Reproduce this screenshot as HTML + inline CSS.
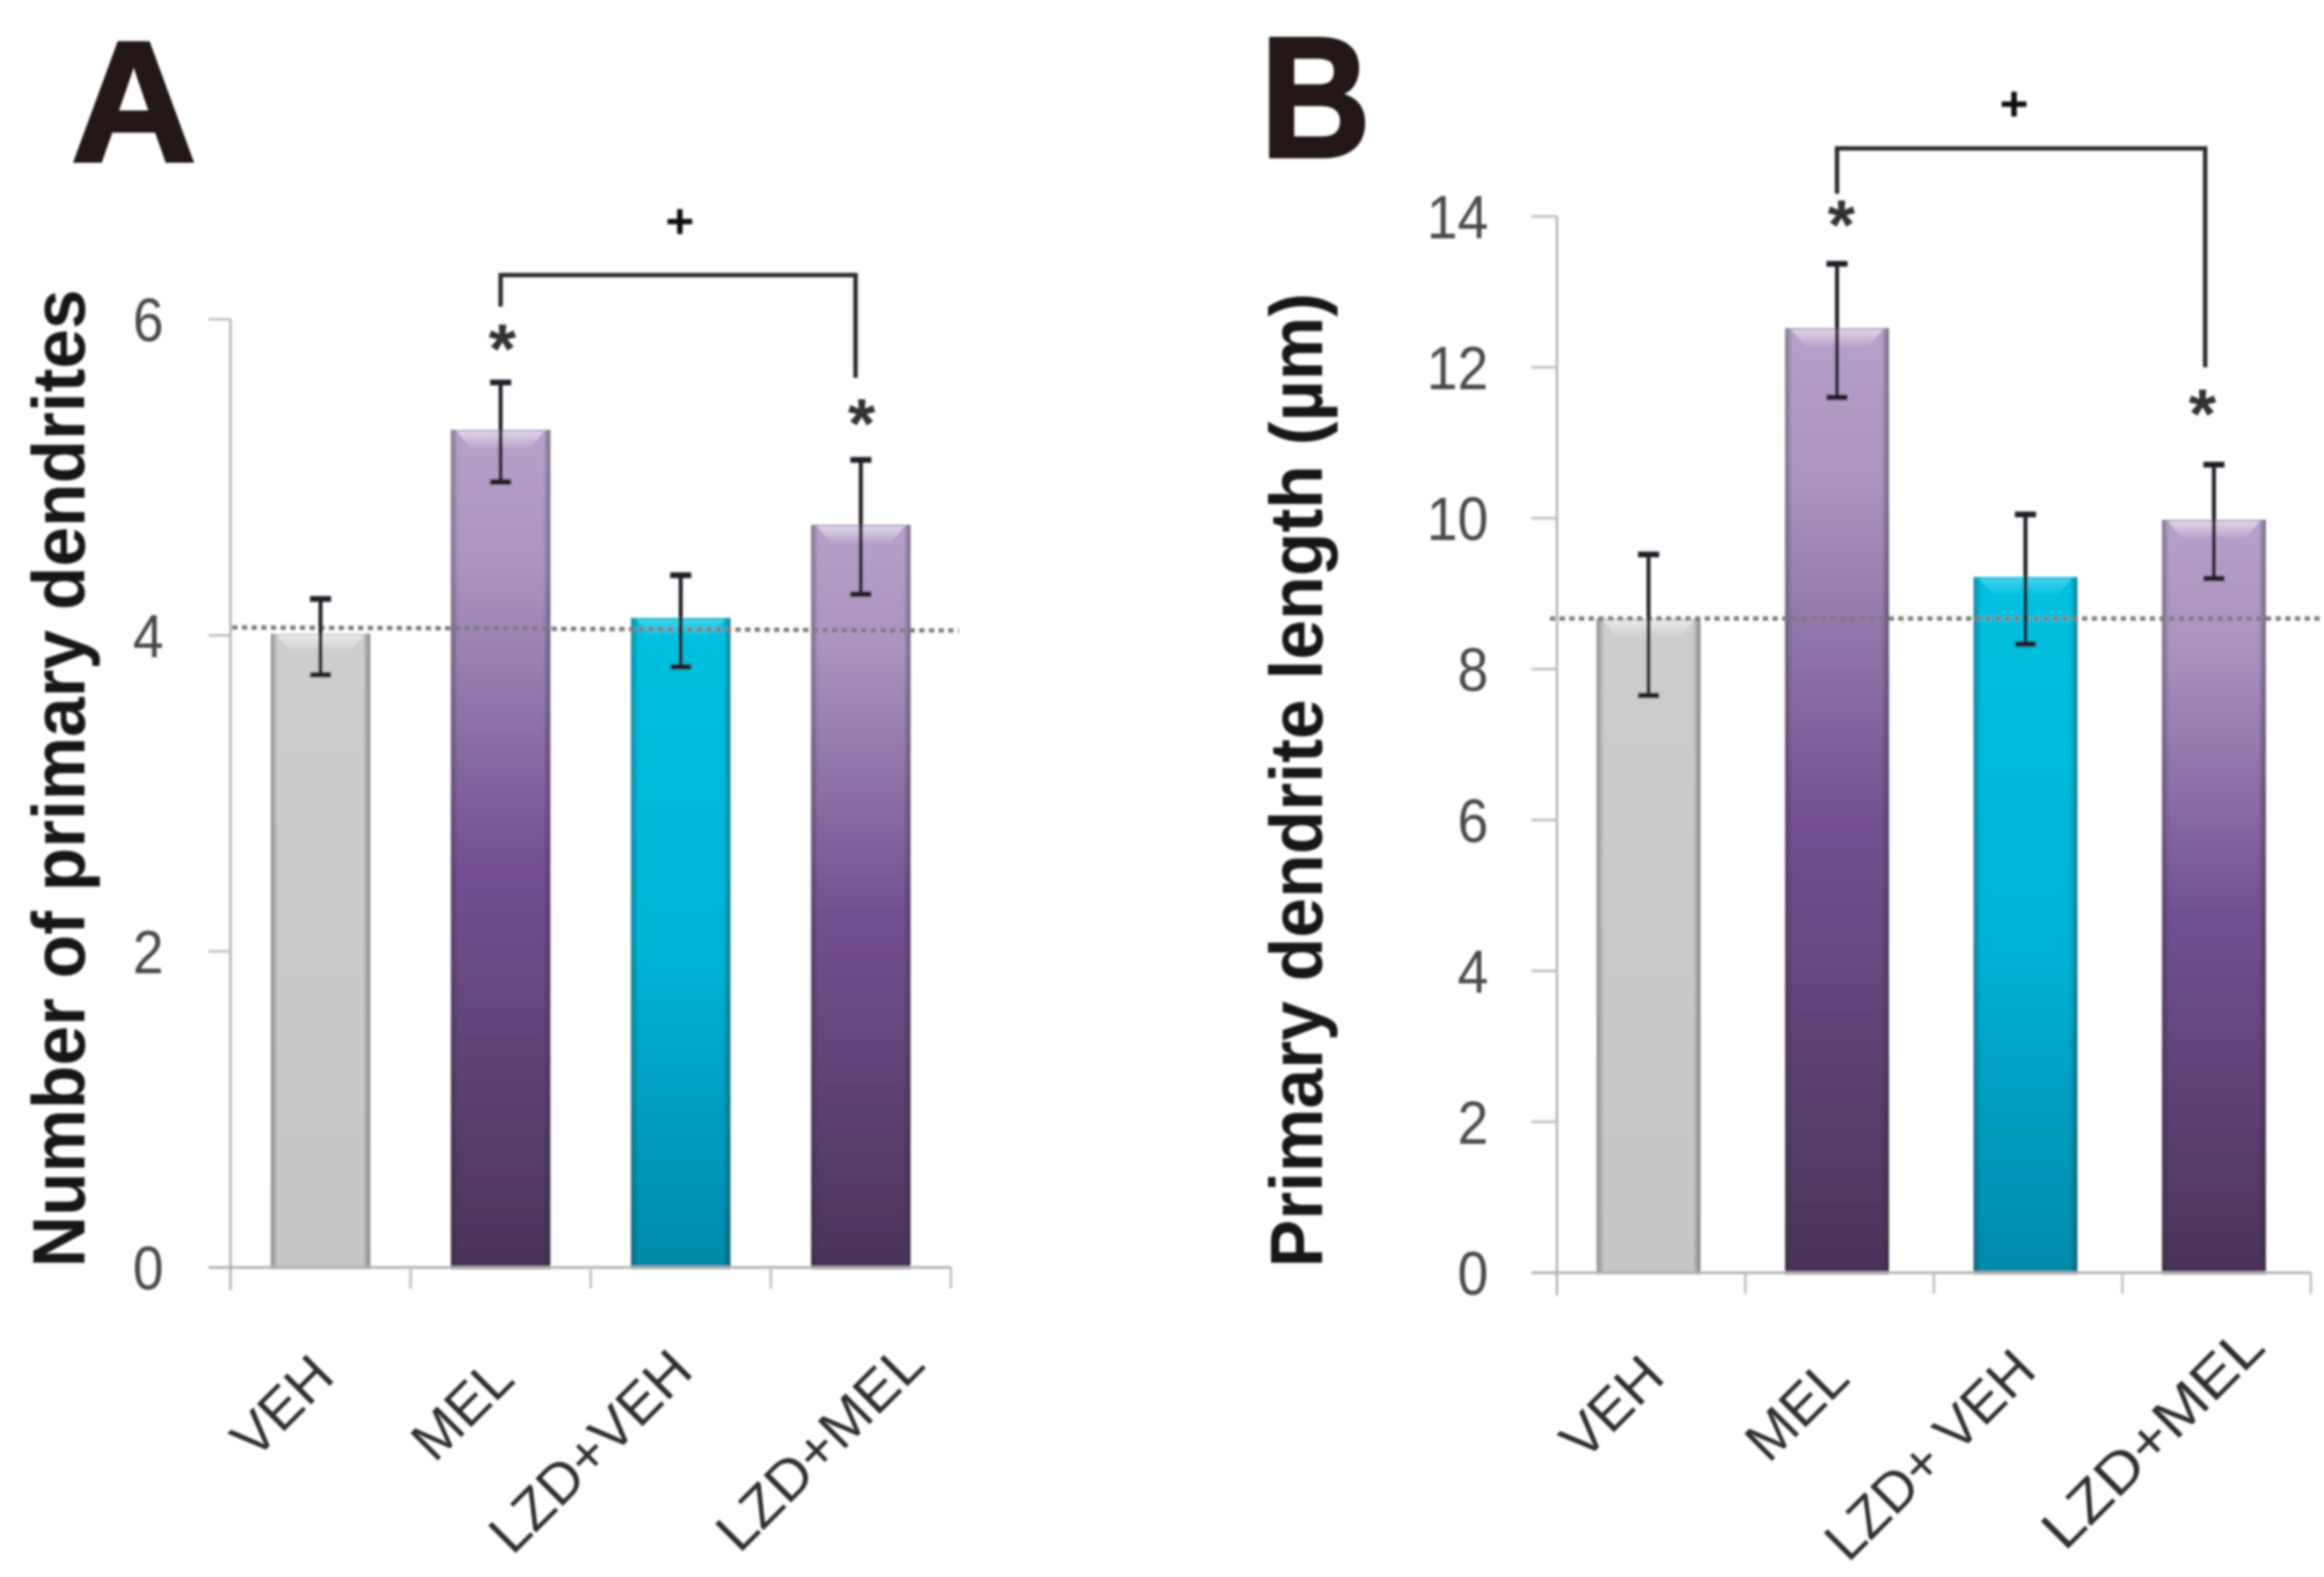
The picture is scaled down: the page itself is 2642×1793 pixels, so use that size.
<!DOCTYPE html>
<html lang="en">
<head>
<meta charset="utf-8">
<title>Primary dendrites charts</title>
<style>
html,body{margin:0;padding:0;background:#fff;}
svg{display:block;}
text{font-family:"Liberation Sans",sans-serif;}
</style>
</head>
<body>
<svg id="figure" xmlns="http://www.w3.org/2000/svg" width="2642" height="1793" viewBox="0 0 2642 1793">
  <defs>
    <filter id="soft" x="-2%" y="-2%" width="104%" height="104%"><feGaussianBlur stdDeviation="1.3"/></filter>
    <linearGradient id="grad-gray" x1="0" y1="0" x2="0" y2="1"><stop offset="0" stop-color="#cdcdcd"/><stop offset="1" stop-color="#c6c6c6"/></linearGradient>
    <linearGradient id="grad-purple" x1="0" y1="0" x2="0" y2="1"><stop offset="0" stop-color="#b6a1c9"/><stop offset="0.16" stop-color="#ab94c0"/><stop offset="0.52" stop-color="#735090"/><stop offset="1" stop-color="#4a3258"/></linearGradient>
    <linearGradient id="grad-teal" x1="0" y1="0" x2="0" y2="1"><stop offset="0" stop-color="#00c0e0"/><stop offset="0.5" stop-color="#00b4d6"/><stop offset="1" stop-color="#0089a9"/></linearGradient>
    <linearGradient id="edge-shade" x1="0" y1="0" x2="1" y2="0"><stop offset="0" stop-color="#222" stop-opacity="0.38"/><stop offset="0.07" stop-color="#222" stop-opacity="0"/><stop offset="0.93" stop-color="#222" stop-opacity="0"/><stop offset="1" stop-color="#222" stop-opacity="0.45"/></linearGradient>
    <linearGradient id="top-glow" x1="0" y1="0" x2="0" y2="1"><stop offset="0" stop-color="#fff" stop-opacity="0.6"/><stop offset="1" stop-color="#fff" stop-opacity="0"/></linearGradient>
  </defs>
  <g id="root" filter="url(#soft)"></g>
</svg>
<script>
/* Panel A data */
const categoriesA = ['VEH', 'MEL', 'LZD+VEH', 'LZD+MEL'];
const valuesA = [4.01, 5.30, 4.11, 4.70];
const errorHighA = [4.23, 5.60, 4.38, 5.11];
const errorLowA = [3.75, 4.97, 3.80, 4.26];
const tickLabelsA = [0, 2, 4, 6];
const referenceA = [4.05, 4.03];
const bracketA = [6.28, 6.08, 5.63];
const starredA = [1, 3];

/* Panel B data */
const categoriesB = ['VEH', 'MEL', 'LZD+ VEH', 'LZD+MEL'];
const valuesB = [8.67, 12.52, 9.22, 9.98];
const errorHighB = [9.52, 13.37, 10.05, 10.71];
const errorLowB = [7.65, 11.60, 8.33, 9.20];
const tickLabelsB = [0, 2, 4, 6, 8, 10, 12, 14];
const referenceB = [8.67, 8.67];
const bracketB = [14.9, 14.3, 12.0];
const starredB = [1, 3];

const barFills = ['url(#grad-gray)', 'url(#grad-purple)', 'url(#grad-teal)', 'url(#grad-purple)'];
const SVGNS = 'http://www.w3.org/2000/svg';
const root = document.getElementById('root');

function mk(tag, attrs, parent, label, interactable) {
  const el = document.createElementNS(SVGNS, tag);
  for (const k in attrs) el.setAttribute(k, attrs[k]);
  
  
  parent.appendChild(el);
  return el;
}

function drawPanel(p) {
  const g = mk('g', {}, root, 'panel-' + p.id, false);
  const n = p.categories.length;
  const band = (p.xRight - p.xLeft) / n;
  const maxTick = p.ticks[p.ticks.length - 1];
  const yScale = v => p.y0 - (v / maxTick) * (p.y0 - p.yTop);
  const xScale = i => p.xLeft + (i + 0.5) * band + p.xShift;

  /* panel letter */
  const letter = mk('text', {x: p.letterX, y: p.letterY, 'font-size': 195, 'font-weight': 700, fill: '#231815', textLength: p.letterW, lengthAdjust: 'spacingAndGlyphs', stroke: '#231815', 'stroke-width': 4}, g, 'panel-letter-' + p.id, false);
  letter.textContent = p.id;

  /* y axis title */
  const title = mk('text', {transform: 'translate(' + p.titleX + ',' + p.titleBottom + ') rotate(-90)', x: 0, y: 0, 'font-size': 84, 'font-weight': 700, fill: '#151515', textLength: p.titleLen, lengthAdjust: 'spacingAndGlyphs'}, g, 'y-axis-title', false);
  title.textContent = p.title;

  /* bars */
  p.values.forEach((v, i) => {
    const x = xScale(i) - p.barW / 2;
    const y = yScale(v);
    const h = p.y0 - y + 2;
    mk('rect', {x: x, y: y, width: p.barW, height: h, fill: barFills[i]}, g, 'bar-' + p.categories[i].toLowerCase().replace(/[^a-z]+/g, '-'), false);
    mk('rect', {x: x, y: y, width: p.barW, height: h, fill: 'url(#edge-shade)'}, g, 'bar-edge-shade', false);
    const bevel = (x + 7) + ',' + (y + 2) + ' ' + (x + p.barW - 7) + ',' + (y + 2) + ' ' + (x + p.barW - 24) + ',' + (y + 22) + ' ' + (x + 24) + ',' + (y + 22);
    mk('polygon', {points: bevel, fill: 'url(#top-glow)', opacity: i === 2 ? 0.45 : 0.95}, g, 'bar-top-highlight', false);
  });

  /* axes */
  mk('line', {x1: p.xLeft, y1: p.yTop, x2: p.xLeft, y2: p.y0 + 26, stroke: '#b8b8b8', 'stroke-width': 3}, g, 'y-axis-line', false);
  mk('line', {x1: p.tickLeft, y1: p.y0, x2: p.xRight, y2: p.y0, stroke: '#b0b0b0', 'stroke-width': 3}, g, 'x-axis-line', false);
  p.ticks.forEach(t => {
    const y = yScale(t);
    if (t !== 0) {
      mk('line', {x1: p.tickLeft, y1: y, x2: p.xLeft, y2: y, stroke: '#c0c0c0', 'stroke-width': 3}, g, 'y-tick-mark', false);
    }
    const label = mk('text', {x: p.tickTextX, y: y + 25, 'font-size': 70, fill: '#4a4a4a', 'text-anchor': 'end', textLength: String(t).length * 35, lengthAdjust: 'spacingAndGlyphs'}, g, 'y-tick-label', false);
    label.textContent = t;
  });
  for (let i = 1; i <= n; i++) {
    const x = p.xLeft + i * band;
    mk('line', {x1: x, y1: p.y0, x2: x, y2: p.y0 + 24, stroke: '#c0c0c0', 'stroke-width': 3}, g, 'x-tick-mark', false);
  }

  /* category labels */
  p.categories.forEach((c, i) => {
    const tx = xScale(i) + p.labelDX[i];
    const ty = p.y0 + p.labelDY[i];
    const len = p.labelLen[i];
    const t = mk('text', {transform: 'translate(' + tx + ',' + ty + ') rotate(-45)', x: 0, y: 22, 'font-size': 64, fill: '#2e2e2e', 'text-anchor': 'middle', textLength: len, lengthAdjust: 'spacingAndGlyphs'}, g, 'x-tick-label', false);
    t.textContent = c;
  });

  /* reference dotted line */
  mk('line', {x1: p.refX1, y1: yScale(p.reference[0]), x2: p.refX2, y2: yScale(p.reference[1]), stroke: '#7c7c7c', 'stroke-width': 5, 'stroke-dasharray': '6 5'}, g, 'vehicle-reference-line', false);

  /* error bars */
  p.values.forEach((v, i) => {
    const x = xScale(i);
    const hi = yScale(p.errHigh[i]);
    const lo = yScale(p.errLow[i]);
    mk('line', {x1: x, y1: hi, x2: x, y2: lo, stroke: '#201a26', 'stroke-width': 4.5}, g, 'error-bar-stem', false);
    mk('line', {x1: x - 12, y1: hi, x2: x + 12, y2: hi, stroke: '#201a26', 'stroke-width': 6.5}, g, 'error-bar-cap-high', false);
    mk('line', {x1: x - 12, y1: lo, x2: x + 12, y2: lo, stroke: '#201a26', 'stroke-width': 6.5}, g, 'error-bar-cap-low', false);
  });

  /* significance stars */
  p.starred.forEach((i, k) => {
    const s = mk('text', {x: xScale(i) + p.starDX[k], y: yScale(p.errHigh[i]) - p.starGap[k] + 46, 'font-size': 80, 'font-weight': 700, fill: '#333', 'text-anchor': 'middle'}, g, 'significance-star', false);
    s.textContent = '*';
  });

  /* bracket */
  const bx1 = xScale(p.starred[0]);
  const bx2 = xScale(p.starred[1]) - p.bracketInset;
  const bracketPts = bx1 + ',' + yScale(p.bracket[1]) + ' ' + bx1 + ',' + yScale(p.bracket[0]) + ' ' + bx2 + ',' + yScale(p.bracket[0]) + ' ' + bx2 + ',' + yScale(p.bracket[2]);
  mk('polyline', {points: bracketPts, fill: 'none', stroke: '#2c2c2c', 'stroke-width': 5}, g, 'comparison-bracket', false);
  const plus = mk('text', {x: (bx1 + bx2) / 2 + p.plusShift, y: yScale(p.bracket[0]) - p.plusGap, 'font-size': 56, 'font-weight': 700, fill: '#111', 'text-anchor': 'middle'}, g, 'comparison-plus-marker', false);
  plus.textContent = '+';
}

drawPanel({
  id: 'A', categories: categoriesA, values: valuesA, errHigh: errorHighA, errLow: errorLowA,
  ticks: tickLabelsA, reference: referenceA, bracket: bracketA, starred: starredA,
  xLeft: 262, xRight: 1081, tickLeft: 237, y0: 1441, yTop: 363, barW: 113, xShift: 0,
  tickTextX: 186, letterX: 81, letterY: 183, letterW: 142,
  title: 'Number of primary dendrites', titleX: 96, titleBottom: 1441, titleLen: 1112,
  labelDX: [-44, -44, -103, -47], labelDY: [158, 161, 209, 204], labelLen: [132, 132, 294, 302],
  refX1: 264, refX2: 1090, starGap: [57, 60], starDX: [2, 1], bracketInset: 6, plusShift: 2, plusGap: 42
});

drawPanel({
  id: 'B', categories: categoriesB, values: valuesB, errHigh: errorHighB, errLow: errorLowB,
  ticks: tickLabelsB, reference: referenceB, bracket: bracketB, starred: starredB,
  xLeft: 1770, xRight: 2627, tickLeft: 1741, y0: 1447, yTop: 246, barW: 118, xShift: -3,
  tickTextX: 1692, letterX: 1433, letterY: 178, letterW: 125,
  title: 'Primary dendrite length (\u00B5m)', titleX: 1503, titleBottom: 1441, titleLen: 1108,
  labelDX: [-42, -46, -109, -70], labelDY: [153, 155, 207, 187], labelLen: [134, 134, 306, 326],
  refX1: 1762, refX2: 2642, starGap: [63, 76], starDX: [5, -13], bracketInset: 10, plusShift: -8, plusGap: 32
});
</script>
</body>
</html>
